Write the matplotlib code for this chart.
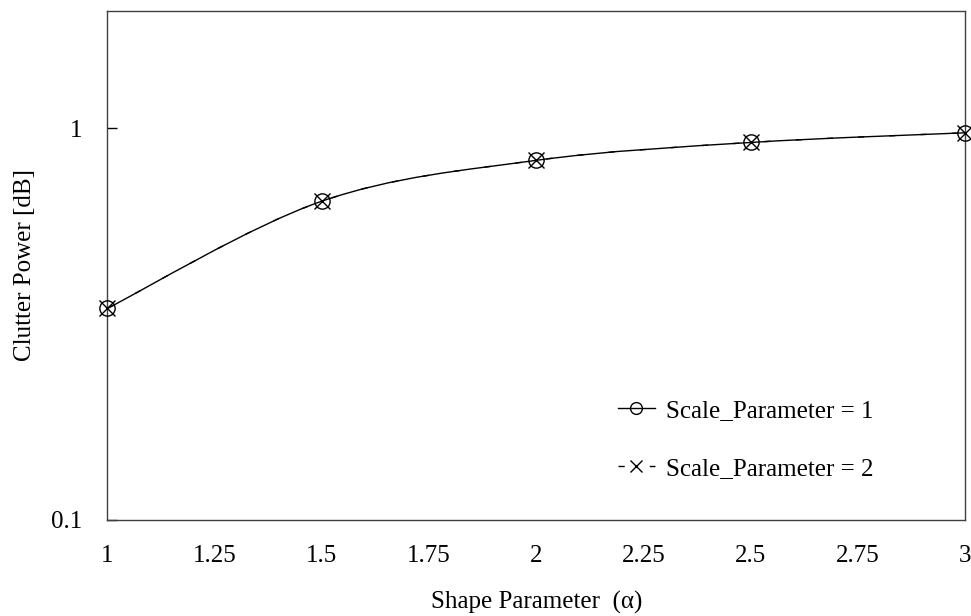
import numpy as np
import matplotlib
matplotlib.use("Agg")
import matplotlib.pyplot as plt
from matplotlib.path import Path
from matplotlib.patches import PathPatch

plt.rcParams['font.family'] = ['Liberation Serif', 'DejaVu Serif']

# shape parameter values and clutter power for each scale parameter
alpha = [1.0, 1.5, 2.0, 2.5, 3.0]
power_scale1 = [0.347, 0.652, 0.829, 0.921, 0.975]
power_scale2 = [0.347, 0.652, 0.829, 0.921, 0.975]

x_ticks = [1, 1.25, 1.5, 1.75, 2, 2.25, 2.5, 2.75, 3]
x_tick_labels = ['1', '1.25', '1.5', '1.75', '2', '2.25', '2.5', '2.75', '3']
y_ticks = [0.1, 1]
y_tick_labels = ['0.1', '1']

FS = 18


def smooth_path(xs, ys):
    # spreadsheet-style smoothed line: cubic bezier segments through the
    # points, control points built in (x, log y) space
    px = np.asarray(xs, dtype=float)
    py = np.log10(np.asarray(ys, dtype=float))
    n = len(px)
    verts = [(px[0], py[0])]
    codes = [Path.MOVETO]
    for i in range(n - 1):
        x0, y0 = (px[i - 1], py[i - 1]) if i > 0 else (px[i], py[i])
        x3, y3 = (px[i + 2], py[i + 2]) if i + 2 < n else (px[i + 1], py[i + 1])
        c1 = (px[i] + (px[i + 1] - x0) / 6, py[i] + (py[i + 1] - y0) / 6)
        c2 = (px[i + 1] - (x3 - px[i]) / 6, py[i + 1] - (y3 - py[i]) / 6)
        verts += [c1, c2, (px[i + 1], py[i + 1])]
        codes += [Path.CURVE4] * 3
    verts = [(vx, 10 ** vy) for vx, vy in verts]
    return Path(verts, codes)


fig = plt.figure(figsize=(9.71, 6.16), dpi=100)
ax = fig.add_axes([0.1107, 0.1563, 0.8831, 0.8263])

ax.set_yscale('log')
ax.set_xlim(1, 3)
ax.set_ylim(0.1, 2)

dash = (0, (4.5, 18))

# smoothed curves
ax.add_patch(PathPatch(smooth_path(alpha, power_scale2), fill=False,
                       edgecolor='black', lw=1.0, linestyle=dash,
                       clip_on=False, zorder=2))
ax.add_patch(PathPatch(smooth_path(alpha, power_scale1), fill=False,
                       edgecolor='black', lw=1.0, clip_on=False, zorder=2))

# markers
ax.plot(alpha, power_scale1, color='black', linestyle='none',
        marker='o', markersize=11, markerfacecolor='none',
        markeredgewidth=1.0, clip_on=False, zorder=3)
ax.plot(alpha, power_scale2, color='black', linestyle='none',
        marker='x', markersize=11, markeredgewidth=1.0,
        clip_on=False, zorder=3)

# legend handles
h1, = ax.plot([], [], color='black', lw=1.0, marker='o', markersize=8.5,
              markerfacecolor='none', markeredgewidth=1.0)
h2, = ax.plot([], [], color='black', lw=1.0, linestyle=dash,
              marker='x', markersize=8.5, markeredgewidth=1.0)

ax.set_xticks(x_ticks)
ax.set_xticklabels(x_tick_labels)
ax.set_yticks(y_ticks)
ax.set_yticklabels(y_tick_labels)
ax.yaxis.set_minor_locator(matplotlib.ticker.NullLocator())
ax.tick_params(axis='x', length=0, pad=18.5, labelsize=FS)
ax.tick_params(axis='y', direction='in', length=7, width=1.0, pad=18,
               labelsize=FS)

for s in ax.spines.values():
    s.set_color('#404040')
    s.set_linewidth(1.0)

ax.set_xlabel('Shape Parameter  (α)', fontsize=FS, labelpad=17)
ax.set_ylabel('Clutter Power [dB]', fontsize=FS, labelpad=11)

ax.legend([h1, h2], ['Scale_Parameter = 1', 'Scale_Parameter = 2'],
          loc='upper left', bbox_to_anchor=(0.613, 0.388),
          bbox_transform=fig.transFigure, frameon=False, fontsize=FS,
          handlelength=1.48, handletextpad=0.44, labelspacing=1.42)

fig.savefig('out.png', dpi=100)
